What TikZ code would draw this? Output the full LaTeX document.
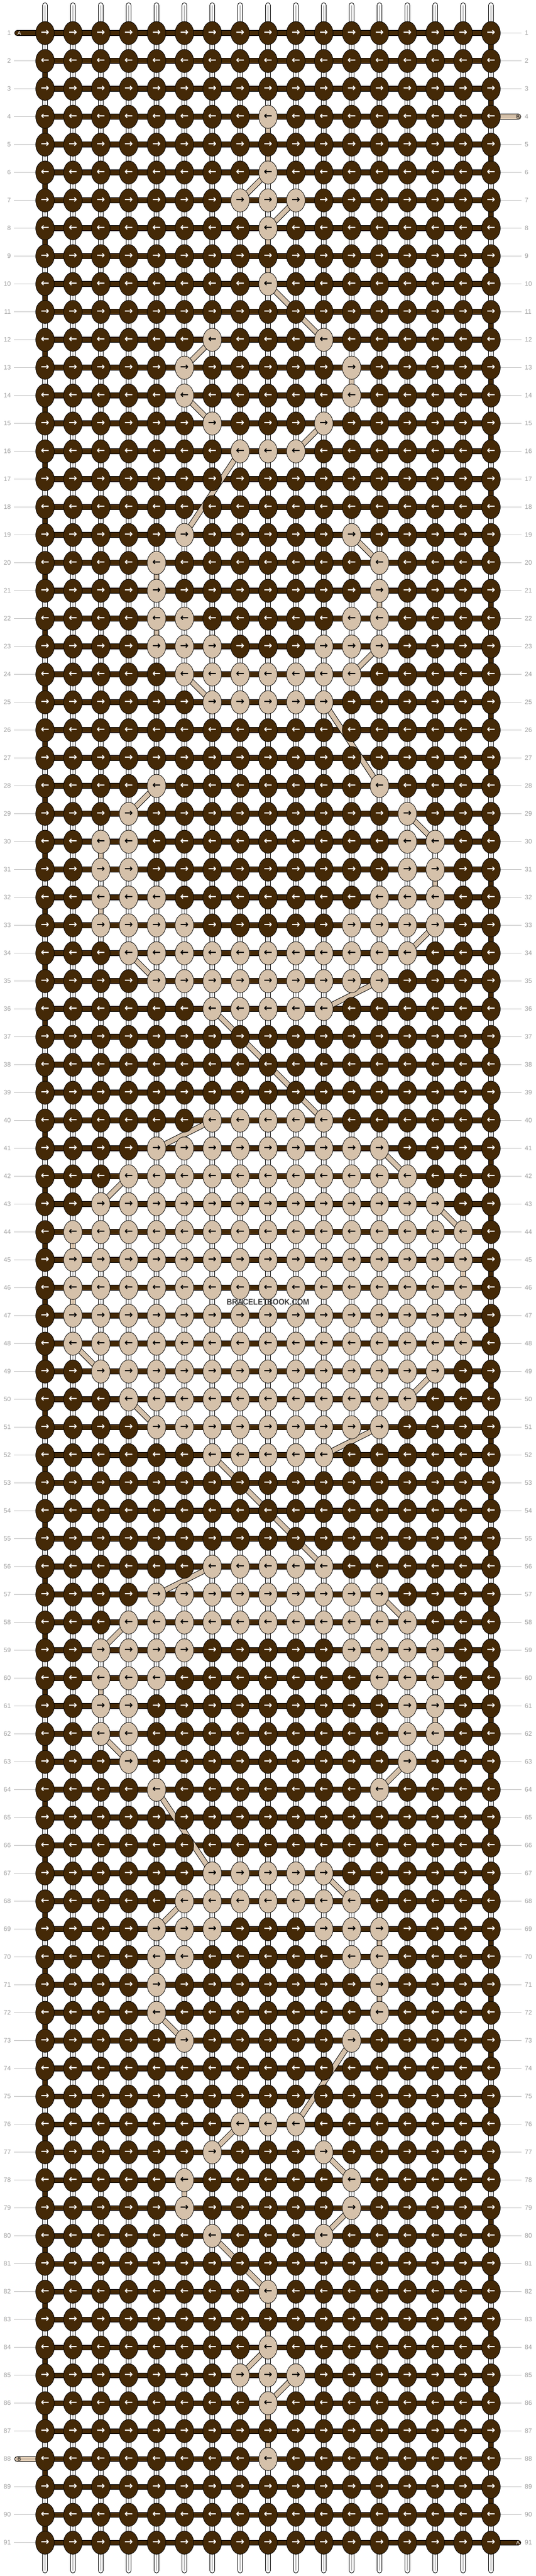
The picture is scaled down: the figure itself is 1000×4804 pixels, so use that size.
\documentclass[tikz,border=0pt]{standalone}
\usepackage{fontspec}
\setmainfont{Liberation Sans}
\newfontfamily\arrowfont{DejaVu Sans}
\usetikzlibrary{shapes.geometric}
\definecolor{knotbrown}{RGB}{68,41,7}
\definecolor{knottan}{RGB}{213,193,170}
\definecolor{lblgray}{RGB}{160,160,160}
\definecolor{linegray}{RGB}{192,192,192}
\definecolor{markgray}{RGB}{60,60,60}
\definecolor{midgray}{RGB}{185,185,185}
\newcommand\settan[2]{\foreach \cc in {#2}{\expandafter\xdef\csname T-#1-\cc\endcsname{1}}}
\settan{4}{9}
\settan{6}{9}
\settan{7}{8,9,10}
\settan{8}{9}
\settan{10}{9}
\settan{12}{7,11}
\settan{13}{6,12}
\settan{14}{6,12}
\settan{15}{7,11}
\settan{16}{8,9,10}
\settan{19}{6,12}
\settan{20}{5,13}
\settan{21}{5,13}
\settan{22}{5,6,12,13}
\settan{23}{5,6,7,11,12,13}
\settan{24}{6,7,8,9,10,11,12}
\settan{25}{7,8,9,10,11}
\settan{28}{5,13}
\settan{29}{4,14}
\settan{30}{3,4,14,15}
\settan{31}{3,4,14,15}
\settan{32}{3,4,5,13,14,15}
\settan{33}{3,4,5,6,12,13,14,15}
\settan{34}{4,5,6,7,8,9,10,11,12,13,14}
\settan{35}{5,6,7,8,9,10,11,12,13}
\settan{36}{7,8,9,10,11}
\settan{40}{7,8,9,10,11}
\settan{41}{5,6,7,8,9,10,11,12,13}
\settan{42}{4,5,6,7,8,9,10,11,12,13,14}
\settan{43}{3,4,5,6,7,8,9,10,11,12,13,14,15}
\settan{44}{2,3,4,5,6,7,8,9,10,11,12,13,14,15,16}
\settan{45}{2,3,4,5,6,7,8,9,10,11,12,13,14,15,16}
\settan{46}{2,3,4,5,6,7,8,9,10,11,12,13,14,15,16}
\settan{47}{2,3,4,5,6,7,8,9,10,11,12,13,14,15,16}
\settan{48}{2,3,4,5,6,7,8,9,10,11,12,13,14,15,16}
\settan{49}{3,4,5,6,7,8,9,10,11,12,13,14,15}
\settan{50}{4,5,6,7,8,9,10,11,12,13,14}
\settan{51}{5,6,7,8,9,10,11,12,13}
\settan{52}{7,8,9,10,11}
\settan{56}{7,8,9,10,11}
\settan{57}{5,6,7,8,9,10,11,12,13}
\settan{58}{4,5,6,7,8,9,10,11,12,13,14}
\settan{59}{3,4,5,6,12,13,14,15}
\settan{60}{3,4,5,13,14,15}
\settan{61}{3,4,14,15}
\settan{62}{3,4,14,15}
\settan{63}{4,14}
\settan{64}{5,13}
\settan{67}{7,8,9,10,11}
\settan{68}{6,7,8,9,10,11,12}
\settan{69}{5,6,7,11,12,13}
\settan{70}{5,6,12,13}
\settan{71}{5,13}
\settan{72}{5,13}
\settan{73}{6,12}
\settan{76}{8,9,10}
\settan{77}{7,11}
\settan{78}{6,12}
\settan{79}{6,12}
\settan{80}{7,11}
\settan{82}{9}
\settan{84}{9}
\settan{85}{8,9,10}
\settan{86}{9}
\settan{88}{9}
\tikzset{
  strandout/.style={line width=10.5pt, draw=black, line cap=round},
  strandin/.style={line width=8.5pt, draw=white, line cap=round},
  strandmid/.style={line width=1.1pt, draw=midgray},
  apath/.style={line width=8.5pt, draw=knotbrown, line cap=round, line join=miter,
    preaction={draw=black, line width=10.5pt, line cap=round, line join=miter}},
  bseg/.style={line width=8.5pt, draw=knottan,
    preaction={draw=black, line width=10.5pt}},
  bstub/.style={line width=8.5pt, draw=knottan, line cap=round,
    preaction={draw=black, line width=10.5pt, line cap=round}},
  knot/.style={ellipse, draw=black, line width=0.8pt, minimum width=34.7pt,
    minimum height=43.3pt, inner sep=0pt,
    font=\arrowfont\bfseries\fontsize{19}{19}\selectfont},
  darkknot/.style={knot, fill=knotbrown, text=white},
  tanknot/.style={knot, fill=knottan, text=black},
  lblleft/.style={anchor=east, inner xsep=5.5pt, inner ysep=0pt, text=lblgray,
    font=\fontsize{12}{12}\selectfont},
  lblright/.style={anchor=west, inner xsep=6pt, inner ysep=0pt, text=lblgray,
    font=\fontsize{12}{12}\selectfont},
  lblline/.style={draw=linegray, line width=1pt},
  stublbl/.style={inner sep=0pt, font=\fontsize{10}{10}\selectfont}
}
\begin{document}
\begin{tikzpicture}[x=1pt, y=-1pt]
\fill[white] (0,0) rectangle (1000,4804);
\useasboundingbox (0,0) rectangle (1000,4804);
% knot centres
\foreach \r in {1,...,91}{
  \foreach \cc in {1,...,17}{
    \coordinate (p-\r-\cc) at ({500+52*(\cc-9)},{61.7+52*(\r-1)});
  }
}
% vertical base strands
\foreach \cc in {1,...,17}{
  \coordinate (top-\cc) at ({500+52*(\cc-9)},10);
  \coordinate (bot-\cc) at ({500+52*(\cc-9)},4793.5);
  \draw[strandout] (top-\cc) -- (bot-\cc);
  \draw[strandin] (top-\cc) -- (bot-\cc);
  \draw[strandmid] (top-\cc) -- (bot-\cc);
}
% working strand A
\coordinate (a-start) at (32,61.7);
\coordinate (a-end) at (967,4741.7);
\draw[apath] (a-start) -- (p-1-1)
  \foreach \r [evaluate=\r as \rn using int(\r+1), evaluate=\r as \rnn using int(\r+2)] in {1,3,...,89}
    { -- (p-\r-17) -- (p-\rn-17) -- (p-\rn-1) -- (p-\rnn-1) }
  -- (p-91-17) -- (a-end);
% strand B
\coordinate (b-start) at (967,217.7);
\coordinate (b-end) at (32,4585.7);
\draw[bstub] (b-start) -- (p-4-17);
\draw[bstub] (p-88-1) -- (b-end);
\foreach \ra/\ca/\rb/\cb in {4/9/6/9, 6/9/7/8, 7/10/8/9, 8/9/10/9, 10/9/12/11, 12/7/13/6,
  13/12/14/12, 14/6/15/7, 15/11/16/10, 16/8/19/6, 19/12/20/13, 20/5/21/5, 21/13/22/13,
  22/5/23/5, 23/13/24/12, 24/6/25/7, 25/11/28/13, 28/5/29/4, 29/14/30/15, 30/3/31/3,
  31/15/32/15, 32/3/33/3, 33/15/34/14, 34/4/35/5, 35/13/36/11, 36/7/40/11, 40/7/41/5,
  41/13/42/14, 42/4/43/3, 43/15/44/16, 44/2/45/2, 45/16/46/16, 46/2/47/2, 47/16/48/16,
  48/2/49/3, 49/15/50/14, 50/4/51/5, 51/13/52/11, 52/7/56/11, 56/7/57/5, 57/13/58/14,
  58/4/59/3, 59/15/60/15, 60/3/61/3, 61/15/62/15, 62/3/63/4, 63/14/64/13, 64/5/67/7,
  67/11/68/12, 68/6/69/5, 69/13/70/13, 70/5/71/5, 71/13/72/13, 72/5/73/6, 73/12/76/10,
  76/8/77/7, 77/11/78/12, 78/6/79/6, 79/12/80/11, 80/7/82/9, 82/9/84/9, 84/9/85/8,
  85/10/86/9, 86/9/88/9}{
  \draw[bseg] (p-\ra-\ca) -- (p-\rb-\cb);
}
% stub letters
\node[stublbl, text=white] (a-lbl1) at (36,61.7) {A};
\node[stublbl, text=white] (a-lbl2) at (966.5,4741.7) {A};
\node[stublbl, text=black] (b-lbl1) at (966.5,217.7) {B};
\node[stublbl, text=black] (b-lbl2) at (36,4585.7) {B};
% knots
\foreach \r in {1,...,91}{
  \ifodd\r\relax\def\arr{→}\else\def\arr{←}\fi
  \foreach \cc in {1,...,17}{
    \ifcsname T-\r-\cc\endcsname\def\ks{tanknot}\else\def\ks{darkknot}\fi
    \node[\ks] (k-\r-\cc) at (p-\r-\cc) {\arr};
  }
}
% row labels
\foreach \r in {1,...,91}{
  \node[lblleft] (ll-\r) at (26,{61.7+52*(\r-1)}) {\r};
  \node[lblright] (rl-\r) at (973,{61.7+52*(\r-1)}) {\r};
}
\foreach \r in {2,...,87,89,90,91}{ \draw[lblline] (ll-\r) -- (k-\r-1); }
\foreach \r in {1,2,3,5,6,...,90}{ \draw[lblline] (k-\r-17) -- (rl-\r); }
% watermark
\node[text=markgray, font=\bfseries\fontsize{15.5}{15.5}\selectfont, xscale=0.9, inner sep=0pt] (wm) at (500,2427.7) {BRACELETBOOK.COM};
\end{tikzpicture}
\end{document}
